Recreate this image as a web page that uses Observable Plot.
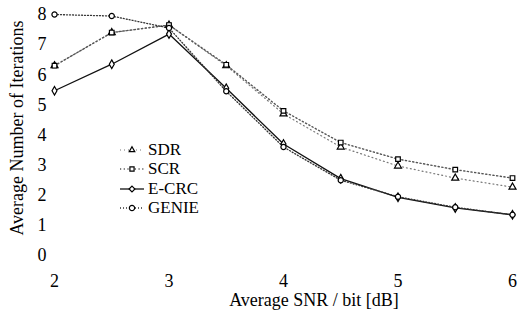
<!DOCTYPE html>
<html>
<head>
<meta charset="utf-8">
<script src="https://cdn.jsdelivr.net/npm/d3@7"></script>
<script src="https://cdn.jsdelivr.net/npm/@observablehq/plot@0.6"></script>
<style>
  html, body { margin: 0; padding: 0; background: #fff; }
  #wrap { position: relative; width: 518px; height: 311px; font-family: "Liberation Serif", serif; color: #000; }
  #legend { position: absolute; left: 118px; top: 140px; font-size: 17px; }
  #legend .row { display: flex; align-items: center; height: 19.5px; }
  #legend svg { margin-right: 2px; }
  #xlabel { position: absolute; left: 314px; top: 300px; transform: translate(-50%, -50%); font-size: 18px; white-space: nowrap; }
  #ylabel { position: absolute; left: 17px; top: 128px; transform: translate(-50%, -50%) rotate(-90deg); font-size: 18px; white-space: nowrap; }
</style>
</head>
<body>
<div id="wrap"><div id="legend"></div><div id="xlabel"></div><div id="ylabel"></div></div>
<script>
const snr   = [2, 2.5, 3, 3.5, 4, 4.5, 5, 5.5, 6];
const sdr   = [6.3, 7.4, 7.65, 6.3, 4.7, 3.6, 2.97, 2.57, 2.27];
const scr   = [6.3, 7.4, 7.65, 6.33, 4.8, 3.75, 3.2, 2.85, 2.57];
const ecrc  = [5.47, 6.35, 7.35, 5.55, 3.7, 2.55, 1.93, 1.58, 1.35];
const genie = [8.0, 7.95, 7.55, 5.45, 3.6, 2.5, 1.95, 1.6, 1.35];
const seriesNames = ["SDR", "SCR", "E-CRC", "GENIE"];
const xTicks = [2, 3, 4, 5, 6];
const yTicks = [0, 1, 2, 3, 4, 5, 6, 7, 8];
const xLabel = "Average SNR / bit [dB]";
const yLabel = "Average Number of Iterations";

const values = [sdr, scr, ecrc, genie];
const styles = {
  "SDR":   {symbol: "triangle", dash: "1,3", stroke: "#777", width: 1.2},
  "SCR":   {symbol: "square",   dash: "1.2,2.5", stroke: "#555", width: 1.4},
  "E-CRC": {symbol: "diamond",  dash: null, stroke: "#111", width: 1.3},
  "GENIE": {symbol: "circle",   dash: "1,2", stroke: "#333", width: 1.3}
};

const data = seriesNames.flatMap((s, i) => snr.map((x, j) => ({series: s, x, y: values[i][j]})));

const marks = [];
for (const s of seriesNames) {
  const st = styles[s];
  const d = data.filter(r => r.series === s);
  marks.push(Plot.line(d, {x: "x", y: "y", stroke: st.stroke, strokeWidth: st.width, strokeDasharray: st.dash}));
}
for (const s of seriesNames) {
  const st = styles[s];
  const d = data.filter(r => r.series === s);
  marks.push(Plot.dot(d, {x: "x", y: "y", symbol: () => st.symbol, r: 2.6, stroke: "#000", strokeWidth: 1.2, fill: "white"}));
}

const chart = Plot.plot({
  width: 518,
  height: 311,
  marginLeft: 54,
  marginRight: 6,
  marginTop: 14,
  marginBottom: 56,
  style: {fontFamily: "Liberation Serif, serif", fontSize: "18px", color: "#000", background: "white"},
  x: {domain: [2, 6], ticks: xTicks, tickSize: 0, tickPadding: 19, tickFormat: d3.format("d"), label: null},
  y: {domain: [0, 8], ticks: yTicks, tickSize: 0, tickPadding: 8, tickFormat: d3.format("d"), label: null},
  symbol: {type: "identity"},
  marks
});
document.getElementById("wrap").prepend(chart);
document.getElementById("xlabel").textContent = xLabel;
document.getElementById("ylabel").textContent = yLabel;

// legend
const leg = document.getElementById("legend");
const symPath = {
  triangle: d3.symbol(d3.symbolTriangle2, 22)(),
  square: d3.symbol(d3.symbolSquare2, 22)(),
  diamond: d3.symbol(d3.symbolDiamond2, 22)(),
  circle: d3.symbol(d3.symbolCircle, 22)()
};
for (const s of seriesNames) {
  const st = styles[s];
  const row = document.createElement("div");
  row.className = "row";
  row.innerHTML = `<svg width="28" height="12"><line x1="2" x2="26" y1="6" y2="6" stroke="${st.stroke}" stroke-width="${st.width}" ${st.dash ? `stroke-dasharray="${st.dash}"` : ""}/><path d="${symPath[st.symbol]}" transform="translate(14,6)" fill="white" stroke="#000" stroke-width="1.2"/></svg><span>${s}</span>`;
  leg.appendChild(row);
}
</script>
</body>
</html>
